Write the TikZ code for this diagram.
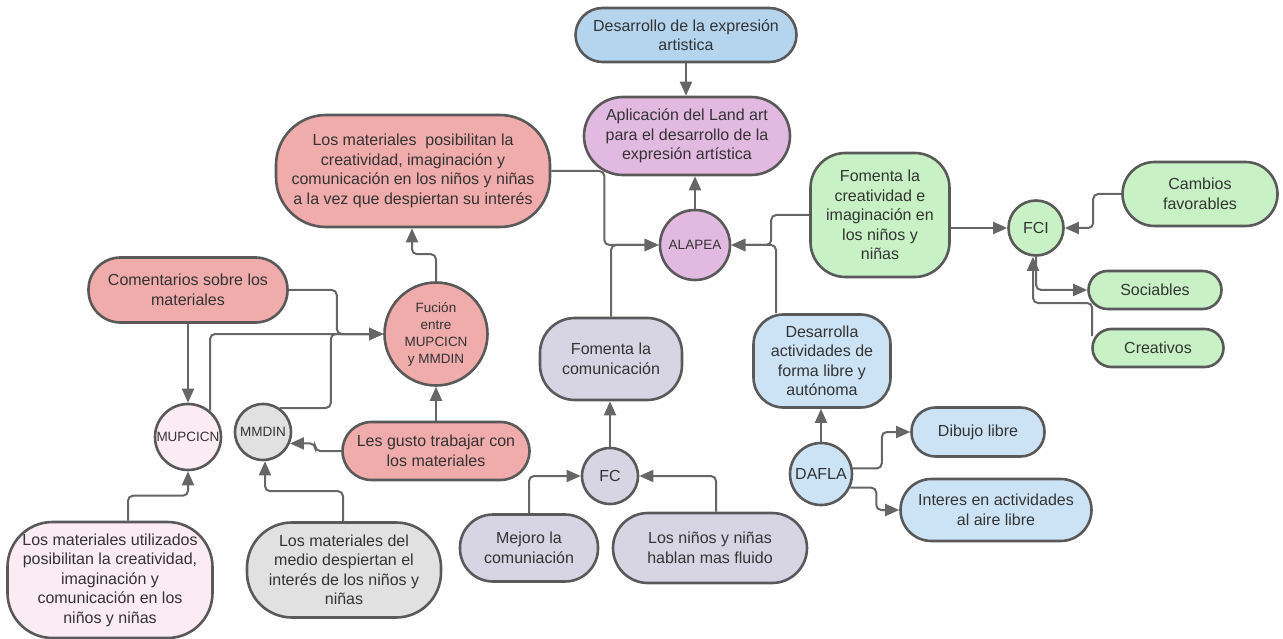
\documentclass[tikz,border=0pt]{standalone}
\usepackage{fontspec}
\setmainfont{Liberation Sans}
\usetikzlibrary{arrows.meta,calc}
\definecolor{bdr}{HTML}{595959}
\definecolor{lnc}{HTML}{666666}
\definecolor{txt}{HTML}{333333}
\definecolor{cred}{HTML}{F0ABAB}
\definecolor{cpink}{HTML}{FBEBF2}
\definecolor{cgray}{HTML}{E1E1E1}
\definecolor{cpurp}{HTML}{E2B9E0}
\definecolor{clav}{HTML}{D7D4E4}
\definecolor{cblueA}{HTML}{B5D5EF}
\definecolor{cblue}{HTML}{CCE3F6}
\definecolor{cgreen}{HTML}{C8F2C6}
\newcommand\myfbig{\fontsize{16}{19.5}\selectfont}
\newcommand\myfsmall{\fontsize{13.5}{17}\selectfont}
\tikzset{
  nd/.style={draw=bdr, line width=2.6pt, text=txt, align=center, inner sep=0pt, font=\myfbig},
  pill/.style n args={3}{nd, rectangle, minimum width=#1, minimum height=#2, rounded corners=#3},
  circ/.style={nd, circle, minimum size=#1},
  conarr/.style={draw=lnc, line width=2pt, rounded corners=5pt, -{Triangle[length=14pt,width=12pt]}},
  conline/.style={draw=lnc, line width=2pt, rounded corners=5pt},
}
\begin{document}
\begin{tikzpicture}[x=1pt,y=-1pt]
\useasboundingbox (0,0) rectangle (1283,639);
% top
\node[pill={221}{54}{27}, fill=cblueA] (d1) at (686,35) {Desarrollo de la expresión\\artistica};
\node[pill={206}{78}{39}, fill=cpurp] (apl) at (687,136) {Aplicación del Land art\\para el desarrollo de la\\expresión artística};
\node[circ=70, fill=cpurp, font=\myfsmall] (alapea) at (695,245) {ALAPEA};
% red cluster
\node[pill={274}{112}{50}, fill=cred] (lmat) at (413,171) {Los materiales\ \ posibilitan la\\creatividad, imaginación y\\comunicación en los niños y niñas\\a la vez que despiertan su interés};
\node[circ=103, fill=cred, font=\myfsmall] (fus) at (436,334) {Fución\\entre\\MUPCICN\\y MMDIN};
\node[pill={199}{65}{32}, fill=cred] (com) at (188,290) {Comentarios sobre los\\materiales};
\node[circ=66, fill=cpink, font=\myfsmall] (mup) at (188,437) {MUPCICN};
\node[circ=56, fill=cgray, font=\myfsmall] (mmd) at (263,432) {MMDIN};
\node[pill={187}{58}{29}, fill=cred] (les) at (436,451) {Les gusto trabajar con\\los materiales};
\node[pill={205}{116}{45}, fill=cpink] (lmu) at (110,580) {Los materiales utilizados\\posibilitan la creatividad,\\imaginación y\\comunicación en los\\niños y niñas};
\node[pill={194}{95}{45}, fill=cgray] (lmd) at (344,570) {Los materiales del\\medio despiertan el\\interés de los niños y\\niñas};
% lavender cluster
\node[pill={142}{82}{35}, fill=clav] (fcom) at (611,359) {Fomenta la\\comunicación};
\node[circ=56, fill=clav] (fc) at (610,476) {FC};
\node[pill={138}{67}{33}, fill=clav] (mej) at (529,548) {Mejoro la\\comuniación};
\node[pill={194}{70}{35}, fill=clav] (nin) at (710,548) {Los niños y niñas\\hablan mas fluido};
% green cluster
\node[pill={139}{124}{35}, fill=cgreen] (fcr) at (880,215) {Fomenta la\\creatividad e\\imaginación en\\los niños y\\niñas};
\node[circ=55, fill=cgreen] (fci) at (1036,228) {FCI};
\node[pill={155}{64}{32}, fill=cgreen] (cam) at (1200,194) {Cambios\\favorables};
\node[pill={133}{38}{19}, fill=cgreen] (soc) at (1155,290) {Sociables};
\node[pill={131}{38}{19}, fill=cgreen] (cre) at (1158,348) {Creativos};
% blue cluster
\node[pill={137}{93}{30}, fill=cblue] (des) at (822,361) {Desarrolla\\actividades de\\forma libre y\\autónoma};
\node[circ=62, fill=cblue] (daf) at (821,474) {DAFLA};
\node[pill={133}{49}{24}, fill=cblue] (dib) at (978,432) {Dibujo libre};
\node[pill={191}{62}{31}, fill=cblue] (int) at (996,510) {Interes en actividades\\al aire libre};
% connectors
\draw[conarr] (d1.south) -- (d1.south |- apl.north);
\draw[conarr] (alapea.north) -- (alapea.north |- apl.south);
\draw[conarr] (lmat.east) -- ++(53,0) |- (alapea.west);
\draw[conarr] (fcom.north) |- (alapea.west);
\draw[conarr] (fcr.west) -- ++(-38,0) |- (alapea.east);
\draw[conarr] ($(des.north)+(-46,0)$) |- (alapea.east);
\draw[conarr] (fcr.east |- fci.west) -- (fci.west);
\draw[conarr] (cam.west) -- ++(-28,0) |- (fci.east);
\draw[conarr] (fci.south) |- (soc.west);
\draw[conarr] ($(cre.west)+(1,-12)$) -- ++(0,-33) -| ($(fci.south)+(-3,0)$);
\draw[conarr] (daf.north) -- (daf.north |- des.south);
\draw[conarr] (daf.10) -- ++(29,0) |- (dib.west);
\draw[conarr] (daf.-25) -- ++(26,0) |- (int.west);
\draw[conarr] (mej.north) |- (fc.west);
\draw[conarr] ($(nin.north)+(6,0)$) |- (fc.east);
\draw[conarr] (fc.north) -- (fc.north |- fcom.south);
\draw[conarr] (les.north) -- (les.north |- fus.south);
\draw[conarr] (les.west) -- ++(-26,0) |- (mmd.-23);
\draw[conarr] (fus.north) -- ++(0,-27) -| ($(lmat.south)+(-1,0)$);
\draw[conarr] (com.south) -- (com.south |- mup.north);
\draw[conarr] (com.east) -- ++(48,0) |- (fus.west);
\draw[conarr] (mup.50) |- (fus.west);
\draw[conarr] (mmd.55) -- ++(51,0) |- (fus.west);
\draw[conarr] ($(lmu.north)+(18,0)$) -- ++(0,-25) -| (mup.south);
\draw[conarr] ($(lmd.north)+(-1,0)$) -- ++(0,-30) -| ($(mmd.south)+(2,0)$);
\end{tikzpicture}
\end{document}
